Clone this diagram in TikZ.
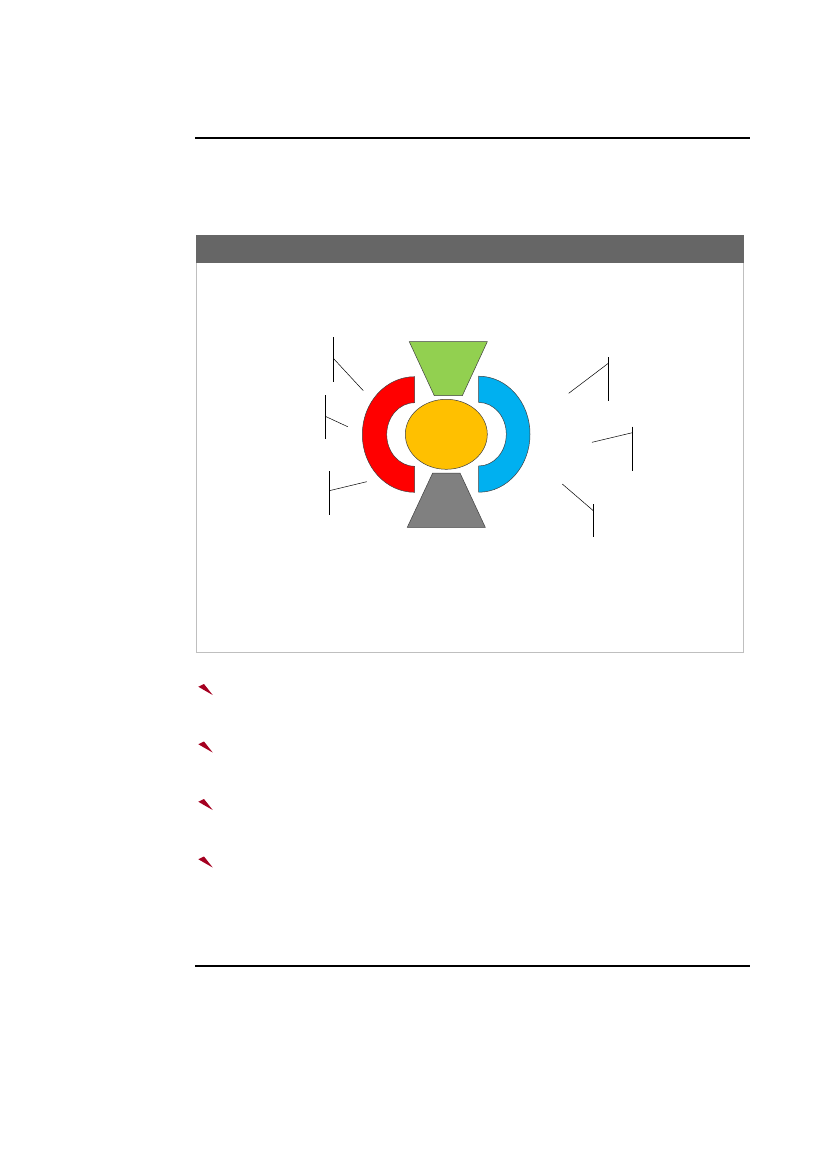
\documentclass[tikz,border=0pt]{standalone}
\usetikzlibrary{calc,shapes.geometric}
\definecolor{hdrgray}{HTML}{666666}
\definecolor{panelborder}{HTML}{BFBFBF}
\definecolor{shapeedge}{HTML}{404040}
\definecolor{cgreen}{HTML}{92D050}
\definecolor{cgray}{HTML}{808080}
\definecolor{corange}{HTML}{FFC000}
\definecolor{cred}{HTML}{FF0000}
\definecolor{cblue}{HTML}{00B0F0}
\definecolor{bulletred}{HTML}{A50021}
\tikzset{
  rule/.style={line width=1.1pt, black},
  shapeline/.style={draw=shapeedge, line width=0.5pt},
  calloutbar/.style={line width=1.1pt, black},
  calloutleg/.style={line width=0.5pt, black},
  bulletmark/.style={fill=bulletred, draw=none},
}
\begin{document}
\begin{tikzpicture}[x=1pt,y=1pt]
\useasboundingbox (0,0) rectangle (827,-1170);
\fill[white] (0,0) rectangle (827,-1170);
% rules
\coordinate (r1a) at (195,-138); \coordinate (r1b) at (750,-138);
\coordinate (r2a) at (195,-966); \coordinate (r2b) at (750,-966);
\draw[rule] (r1a) -- (r1b);
\draw[rule] (r2a) -- (r2b);
% panel
\draw[panelborder, line width=1pt] (196.5,-262) rectangle (743.5,-652);
\fill[hdrgray] (196,-235) rectangle (744,-262.5);
% green trapezoid
\draw[shapeline, fill=cgreen] (409.3,-341.7) -- (487.3,-341.7) -- (462.3,-395.7) -- (434.3,-395.7) -- cycle;
% gray trapezoid
\draw[shapeline, fill=cgray] (432.7,-473) -- (460,-473) -- (485.3,-527.3) -- (407.3,-527.3) -- cycle;
% orange ellipse
\node[shapeline, fill=corange, shape=ellipse, minimum width=82pt, minimum height=70pt, inner sep=0pt] (core) at (446.3,-434.3) {};
% red block arc
\draw[shapeline, fill=cred] (414.7,-376.7) arc[start angle=90, end angle=270, x radius=52.4, y radius=57.8]
  -- (414.7,-466.3) arc[start angle=270, end angle=90, x radius=28, y radius=31.8] -- cycle;
% blue block arc
\draw[shapeline, fill=cblue] (478.7,-376.2) arc[start angle=90, end angle=-90, x radius=51.3, y radius=58]
  -- (478.7,-466) arc[start angle=-90, end angle=90, x radius=27.6, y radius=31.8] -- cycle;
% callouts left
\coordinate (c1t) at (333.3,-337.3); \coordinate (c1b) at (333.3,-381.7);
\coordinate (c1k) at (333.3,-358.3); \coordinate (c1e) at (363.3,-390.7);
\draw[calloutbar] (c1t) -- (c1b); \draw[calloutleg] (c1k) -- (c1e);
\coordinate (c2t) at (325.3,-395); \coordinate (c2b) at (325.3,-439.3);
\coordinate (c2k) at (325.3,-416.3); \coordinate (c2e) at (347.7,-426.7);
\draw[calloutbar] (c2t) -- (c2b); \draw[calloutleg] (c2k) -- (c2e);
\coordinate (c3t) at (329.3,-471); \coordinate (c3b) at (329.3,-515);
\coordinate (c3k) at (329.3,-490.7); \coordinate (c3e) at (366.7,-481.7);
\draw[calloutbar] (c3t) -- (c3b); \draw[calloutleg] (c3k) -- (c3e);
% callouts right
\coordinate (c4t) at (608.3,-357.3); \coordinate (c4b) at (608.3,-401);
\coordinate (c4k) at (608.3,-363.3); \coordinate (c4e) at (568.7,-393.3);
\draw[calloutbar] (c4t) -- (c4b); \draw[calloutleg] (c4k) -- (c4e);
\coordinate (c5t) at (632.3,-426.7); \coordinate (c5b) at (632.3,-470.7);
\coordinate (c5k) at (632.3,-432.7); \coordinate (c5e) at (592,-442.3);
\draw[calloutbar] (c5t) -- (c5b); \draw[calloutleg] (c5k) -- (c5e);
\coordinate (c6t) at (593.3,-504); \coordinate (c6b) at (593.3,-536.7);
\coordinate (c6k) at (593.3,-510.7); \coordinate (c6e) at (562.3,-484);
\draw[calloutbar] (c6t) -- (c6b); \draw[calloutleg] (c6k) -- (c6e);
% bullets
\foreach \i in {0,1,2,3} {
  \fill[bulletmark, yshift={-57.5*\i}] (198.3,-686.7) -- (204,-684) -- (212.7,-695) -- (202.7,-689.3) -- cycle;
}
\end{tikzpicture}
\end{document}
